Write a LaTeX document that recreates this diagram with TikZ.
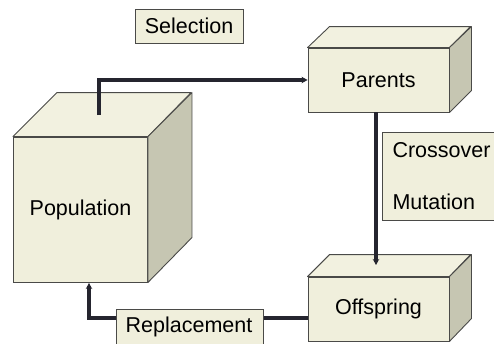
\documentclass[tikz,border=0pt]{standalone}
\usepackage{fontspec}
\setmainfont{Liberation Sans}
\usetikzlibrary{arrows.meta}
\definecolor{facefill}{HTML}{F0EFDC}
\definecolor{topfill}{HTML}{F2F1E0}
\definecolor{sidefill}{HTML}{C6C6B2}
\definecolor{edge}{HTML}{4A4A48}
\definecolor{flow}{HTML}{25252F}
\tikzset{
  front/.style={draw=edge, line width=0.9pt, fill=facefill, minimum width=#1, inner sep=0pt, font=\fontsize{21.5}{24}\selectfont},
  topface/.style={draw=edge, line width=0.9pt, fill=topfill, line join=round},
  sideface/.style={draw=edge, line width=0.9pt, fill=sidefill, line join=round},
  labelbox/.style={draw=edge, line width=0.9pt, fill=facefill, inner sep=0pt, font=\fontsize{21.5}{24}\selectfont},
  flowline/.style={draw=flow, line width=3.2pt},
  flowarrow/.style={flowline, -{Stealth[length=6pt,width=6.5pt]}}
}
\begin{document}
\begin{tikzpicture}[x=1pt,y=-1pt]
\useasboundingbox (0,0) rectangle (494,343);
% Population cube
\node[front=134pt, minimum height=145pt] (pop) at (80.5,209.5) {Population};
\path[topface] (pop.north west) -- ++(44,-44) -- ++(134,0) -- (pop.north east) -- cycle;
\path[sideface] (pop.north east) -- ++(44,-44) -- ++(0,145) -- (pop.south east) -- cycle;
% Parents cube
\node[front=141pt, minimum height=64pt] (par) at (378.5,80) {Parents};
\path[topface] (par.north west) -- ++(22,-21) -- ++(141,0) -- (par.north east) -- cycle;
\path[sideface] (par.north east) -- ++(22,-21) -- ++(0,64) -- (par.south east) -- cycle;
% Offspring cube
\node[front=141pt, minimum height=64pt] (off) at (378.5,309) {Offspring};
\path[topface] (off.north west) -- ++(22,-22) -- ++(141,0) -- (off.north east) -- cycle;
\path[sideface] (off.north east) -- ++(22,-22) -- ++(0,64) -- (off.south east) -- cycle;
% connector anchors
\coordinate (selstart) at (99,115);
\coordinate (xmtip) at (376,265);
% Selection
\draw[flowarrow] (selstart) |- (par.west);
% Crossover / Mutation
\draw[flowarrow] (par.south -| xmtip) -- (xmtip);
% Replacement
\coordinate (reptip) at (89,283);
\draw[flowarrow] (off.west |- 0,318) -| (reptip);
% labels
\node[labelbox, minimum width=108pt, minimum height=34pt] (sel) at (189,26) {Selection};
\node[labelbox, minimum width=147pt, minimum height=44pt, anchor=north west] (rep) at (116,309) {};
\node[font=\fontsize{21.5}{24}\selectfont] (reptext) at (189,327) {Replacement};
\node[labelbox, minimum width=140pt, minimum height=88pt, anchor=north west] (xm) at (382,132) {};
\node[font=\fontsize{21.5}{24}\selectfont, anchor=west] (xtext) at (389,150) {Crossover};
\node[font=\fontsize{21.5}{24}\selectfont, anchor=west] (mtext) at (389,202) {Mutation};
\end{tikzpicture}
\end{document}
